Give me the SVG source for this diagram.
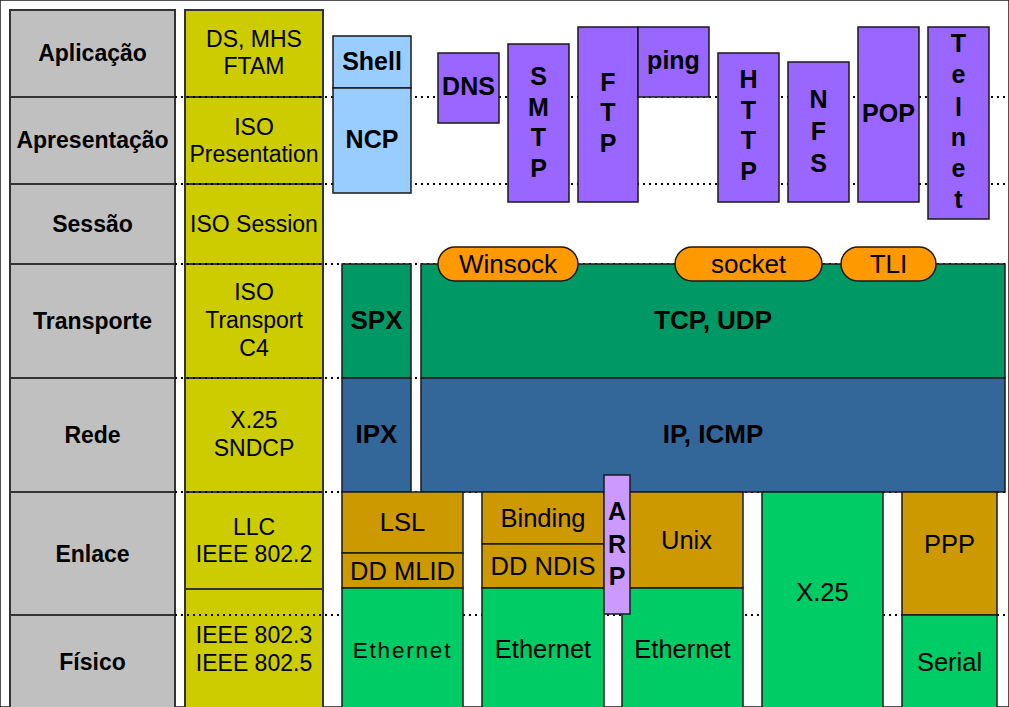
<svg xmlns="http://www.w3.org/2000/svg" width="1009" height="707" viewBox="0 0 1009 707">
<style>
rect{stroke:#1a1a1a;stroke-width:1.5}
text{font-family:"Liberation Sans",Arial,sans-serif;fill:#000;text-anchor:middle}
.osi{fill:#c0c0c0;stroke:#333;stroke-width:2}
.osi-t{font-weight:bold;font-size:23px}
.iso{fill:#cccc00;stroke:#333;stroke-width:2}
.iso-t{font-size:23px}
.app{fill:#9966ff}
.app-t{font-weight:bold;font-size:25px}
.nw{fill:#99ccff}
.tr{fill:#009966}
.net{fill:#336699}
.big{font-weight:bold;font-size:26px}
.pill{fill:#ff9900}
.pill-t{font-size:26px}
.ll{fill:#cc9900}
.ph{fill:#00cc66}
.arp{fill:#cc99ff}
.lo{font-size:25.5px}
.dot{stroke:#000;stroke-width:2;stroke-dasharray:2 4;fill:none}
</style>
<rect x="0" y="0" width="1009" height="707" fill="#fff" stroke="none"/>

<g id="osi-layers">
<g id="aplicacao"><rect class="osi" x="10" y="10" width="165" height="87"/><text class="osi-t" x="92.5" y="61">Aplicação</text></g>
<g id="apresentacao"><rect class="osi" x="10" y="97" width="165" height="87"/><text class="osi-t" x="92.5" y="148">Apresentação</text></g>
<g id="sessao"><rect class="osi" x="10" y="184" width="165" height="80"/><text class="osi-t" x="92.5" y="232">Sessão</text></g>
<g id="transporte"><rect class="osi" x="10" y="264" width="165" height="114"/><text class="osi-t" x="92.5" y="329">Transporte</text></g>
<g id="rede"><rect class="osi" x="10" y="378" width="165" height="114"/><text class="osi-t" x="92.5" y="443">Rede</text></g>
<g id="enlace"><rect class="osi" x="10" y="492" width="165" height="123"/><text class="osi-t" x="92.5" y="562">Enlace</text></g>
<g id="fisico"><rect class="osi" x="10" y="615" width="165" height="100"/><text class="osi-t" x="92.5" y="670">Físico</text></g>
</g>

<g id="iso-protocols">
<g id="iso-app"><rect class="iso" x="185" y="10" width="138" height="87"/><text class="iso-t" x="254" y="47">DS, MHS</text><text class="iso-t" x="254" y="74">FTAM</text></g>
<g id="iso-pres"><rect class="iso" x="185" y="97" width="138" height="87"/><text class="iso-t" x="254" y="135">ISO</text><text class="iso-t" x="254" y="162">Presentation</text></g>
<g id="iso-sess"><rect class="iso" x="185" y="184" width="138" height="80"/><text class="iso-t" x="254" y="232">ISO Session</text></g>
<g id="iso-trans"><rect class="iso" x="185" y="264" width="138" height="114"/><text class="iso-t" x="254" y="300">ISO</text><text class="iso-t" x="254" y="328">Transport</text><text class="iso-t" x="254" y="356">C4</text></g>
<g id="iso-net"><rect class="iso" x="185" y="378" width="138" height="114"/><text class="iso-t" x="254" y="428">X.25</text><text class="iso-t" x="254" y="456">SNDCP</text></g>
<g id="iso-llc"><rect class="iso" x="185" y="492" width="138" height="97"/><text class="iso-t" x="254" y="535">LLC</text><text class="iso-t" x="254" y="562">IEEE 802.2</text></g>
<g id="iso-phys"><rect class="iso" x="185" y="589" width="138" height="126"/><text class="iso-t" x="254" y="643">IEEE 802.3</text><text class="iso-t" x="254" y="671">IEEE 802.5</text></g>
</g>

<g id="connectors">
<line class="dot" x1="175" y1="97" x2="1009" y2="97"/>
<line class="dot" x1="175" y1="184" x2="1009" y2="184"/>
<line class="dot" x1="175" y1="264" x2="1009" y2="264"/>
<line class="dot" x1="175" y1="378" x2="1009" y2="378"/>
<line class="dot" x1="175" y1="492" x2="1009" y2="492"/>
<line class="dot" x1="175" y1="615" x2="1009" y2="615"/>
</g>

<g id="shell"><rect class="nw" x="333" y="36" width="78" height="52"/><text class="app-t" x="372" y="70">Shell</text></g>
<g id="ncp"><rect class="nw" x="333" y="88" width="78" height="105"/><text class="app-t" x="372" y="148">NCP</text></g>
<g id="dns"><rect class="app" x="438" y="53" width="61" height="70"/><text class="app-t" x="468.5" y="95">DNS</text></g>
<g id="smtp"><rect class="app" x="508" y="44" width="61" height="158"/><text class="app-t" x="538.5" y="85">S</text><text class="app-t" x="538.5" y="116">M</text><text class="app-t" x="538.5" y="146">T</text><text class="app-t" x="538.5" y="177">P</text></g>
<g id="ftp"><rect class="app" x="578" y="27" width="60" height="175"/><text class="app-t" x="608" y="91">F</text><text class="app-t" x="608" y="121">T</text><text class="app-t" x="608" y="152">P</text></g>
<g id="ping"><rect class="app" x="638" y="27" width="71" height="70"/><text class="app-t" x="673.5" y="69">ping</text></g>
<g id="http"><rect class="app" x="718" y="53" width="61" height="149"/><text class="app-t" x="748.5" y="88">H</text><text class="app-t" x="748.5" y="119">T</text><text class="app-t" x="748.5" y="149">T</text><text class="app-t" x="748.5" y="180">P</text></g>
<g id="nfs"><rect class="app" x="788" y="62" width="61" height="140"/><text class="app-t" x="818.5" y="108">N</text><text class="app-t" x="818.5" y="140">F</text><text class="app-t" x="818.5" y="172">S</text></g>
<g id="pop"><rect class="app" x="858" y="27" width="61" height="175"/><text class="app-t" x="888.5" y="122">POP</text></g>
<g id="telnet"><rect class="app" x="928" y="27" width="61" height="192"/><text class="app-t" x="958.5" y="52">T</text><text class="app-t" x="958.5" y="83">e</text><text class="app-t" x="958.5" y="116">l</text><text class="app-t" x="958.5" y="146">n</text><text class="app-t" x="958.5" y="177">e</text><text class="app-t" x="958.5" y="208">t</text></g>

<g id="spx"><rect class="tr" x="342" y="264" width="69" height="114"/><text class="big" x="376.5" y="329">SPX</text></g>
<g id="tcp-udp"><rect class="tr" x="421" y="264" width="584" height="114"/><text class="big" x="713" y="329">TCP, UDP</text></g>
<g id="ipx"><rect class="net" x="342" y="378" width="69" height="114"/><text class="big" x="376.5" y="443">IPX</text></g>
<g id="ip-icmp"><rect class="net" x="421" y="378" width="584" height="114"/><text class="big" x="713" y="443">IP, ICMP</text></g>

<g id="winsock"><rect class="pill" x="438" y="247" width="140" height="34" rx="17"/><text class="pill-t" x="508" y="273">Winsock</text></g>
<g id="socket"><rect class="pill" x="675" y="247" width="147" height="34" rx="17"/><text class="pill-t" x="748.5" y="273">socket</text></g>
<g id="tli"><rect class="pill" x="841" y="247" width="95" height="34" rx="17"/><text class="pill-t" x="888.5" y="273">TLI</text></g>

<g id="lsl"><rect class="ll" x="342" y="492" width="121" height="61"/><text class="lo" x="402.5" y="531">LSL</text></g>
<g id="dd-mlid"><rect class="ll" x="342" y="553" width="121" height="35"/><text class="lo" x="402.5" y="580">DD MLID</text></g>
<g id="ethernet-1"><rect class="ph" x="342" y="588" width="121" height="127"/><text class="lo" x="402.5" y="658" style="font-size:22.5px;letter-spacing:1.8px">Ethernet</text></g>
<g id="binding"><rect class="ll" x="482" y="492" width="122" height="52"/><text class="lo" x="543" y="527">Binding</text></g>
<g id="dd-ndis"><rect class="ll" x="482" y="544" width="122" height="44"/><text class="lo" x="543" y="575">DD NDIS</text></g>
<g id="ethernet-2"><rect class="ph" x="482" y="588" width="122" height="127"/><text class="lo" x="543" y="658">Ethernet</text></g>
<g id="unix"><rect class="ll" x="604" y="492" width="139" height="96"/><text class="lo" x="686.5" y="549">Unix</text></g>
<g id="ethernet-3"><rect class="ph" x="622" y="588" width="121" height="127"/><text class="lo" x="682.5" y="658">Ethernet</text></g>
<g id="arp"><rect class="arp" x="604" y="475" width="26" height="139"/><text class="app-t" x="617" y="520">A</text><text class="app-t" x="617" y="553">R</text><text class="app-t" x="617" y="585">P</text></g>
<g id="x25"><rect class="ph" x="762" y="492" width="121" height="223"/><text class="lo" x="822.5" y="601">X.25</text></g>
<g id="ppp"><rect class="ll" x="902" y="492" width="95" height="123"/><text class="lo" x="949.5" y="553">PPP</text></g>
<g id="serial"><rect class="ph" x="902" y="615" width="95" height="100"/><text class="lo" x="949.5" y="671">Serial</text></g>
</svg>
